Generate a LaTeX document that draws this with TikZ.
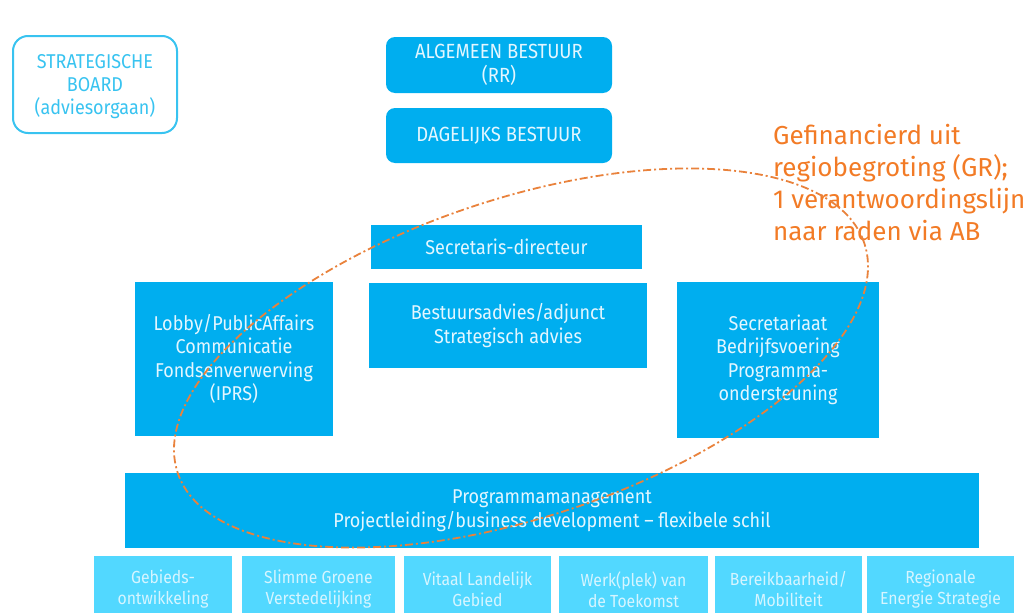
\documentclass[tikz,border=0pt]{standalone}
\usepackage{fontspec}
\setmainfont{Fira Sans}[FakeStretch=0.9]
\newfontfamily\notefont{Fira Sans}
\definecolor{dblue}{HTML}{00AEEF}
\definecolor{lblue}{HTML}{52D8FF}
\definecolor{bord}{HTML}{38C3F0}
\definecolor{orng}{HTML}{F27B26}
\definecolor{ellc}{HTML}{E9823C}
\definecolor{wtxt}{HTML}{E3F6FF}
\definecolor{ltxt}{HTML}{D6F5FF}
\begin{document}
\begin{tikzpicture}[x=1pt,y=-1pt,
  darkbox/.style={fill=dblue, text=wtxt, align=center, inner sep=0pt, font=\fontsize{20}{23.5}\selectfont},
  topbox/.style={darkbox, rounded corners=9pt, minimum width=226pt, font=\fontsize{20.5}{23.5}\selectfont},
  lightbox/.style={fill=lblue, text=ltxt, align=center, inner sep=0pt, minimum height=67pt, font=\fontsize{17.5}{21}\selectfont},
  boardbox/.style={draw=bord, line width=2pt, rounded corners=15pt, align=center, inner sep=0pt},
  boardtext/.style={text=bord, align=center, inner sep=0pt, font=\fontsize{20}{23}\selectfont},
  note/.style={text=orng, align=left, inner sep=0pt, anchor=north west, font=\notefont\fontsize{26}{32}\selectfont},
  regio/.style={draw=ellc, line width=1.8pt, dash pattern=on 8pt off 3pt on 2pt off 3pt}
]
\useasboundingbox (0,0) rectangle (1026,613);
\node[boardbox, minimum width=164pt, minimum height=97pt] (board) at (95,84.5) {};
\node[boardtext] (boardlabel) at (95,87) {STRATEGISCHE\\BOARD\\(adviesorgaan)};
\node[topbox, minimum height=56pt] (ab) at (499,65) {ALGEMEEN BESTUUR\\(RR)};
\node[topbox, minimum height=55pt] (db) at (499,135.5) {DAGELIJKS BESTUUR};
\node[darkbox, minimum width=271pt, minimum height=44pt] (sd) at (506.5,247) {Secretaris-directeur};
\node[darkbox, minimum width=278pt, minimum height=85pt] (ba) at (508,325.5) {Bestuursadvies/adjunct\\Strategisch advies};
\node[darkbox, minimum width=198pt, minimum height=154pt] (lobby) at (234,359) {Lobby/PublicAffairs\\Communicatie\\Fondsenverwerving\\(IPRS)};
\node[darkbox, minimum width=202pt, minimum height=156pt] (secr) at (778,360) {Secretariaat\\Bedrijfsvoering\\Programma-\\ondersteuning};
\node[darkbox, minimum width=854pt, minimum height=75pt] (prog) at (552,510.5) {Programmamanagement\\Projectleiding/business development -- flexibele schil};
\node[lightbox, minimum width=138pt] (p1) at (163,589.5) {Gebieds-\\ontwikkeling};
\node[lightbox, minimum width=153pt] (p2) at (318.5,589.5) {Slimme Groene\\Verstedelijking};
\node[lightbox, minimum width=147pt] (p3) at (477.5,589.5) {Vitaal Landelijk\\Gebied};
\node[lightbox, minimum width=149pt] (p4) at (633.5,589.5) {Werk(plek) van\\de Toekomst};
\node[lightbox, minimum width=147pt] (p5) at (788.5,589.5) {Bereikbaarheid/\\Mobiliteit};
\node[lightbox, minimum width=147pt] (p6) at (940.5,589.5) {Regionale\\Energie Strategie};
\node[note] (gr) at (773,124) {Gefinancierd uit\\regiobegroting (GR);\\1 verantwoordingslijn\\naar raden via AB};
\draw[regio, shift={(521pt,-358pt)}, rotate=18.5] (0,0) ellipse [x radius=362pt, y radius=159pt];
\end{tikzpicture}
\end{document}
